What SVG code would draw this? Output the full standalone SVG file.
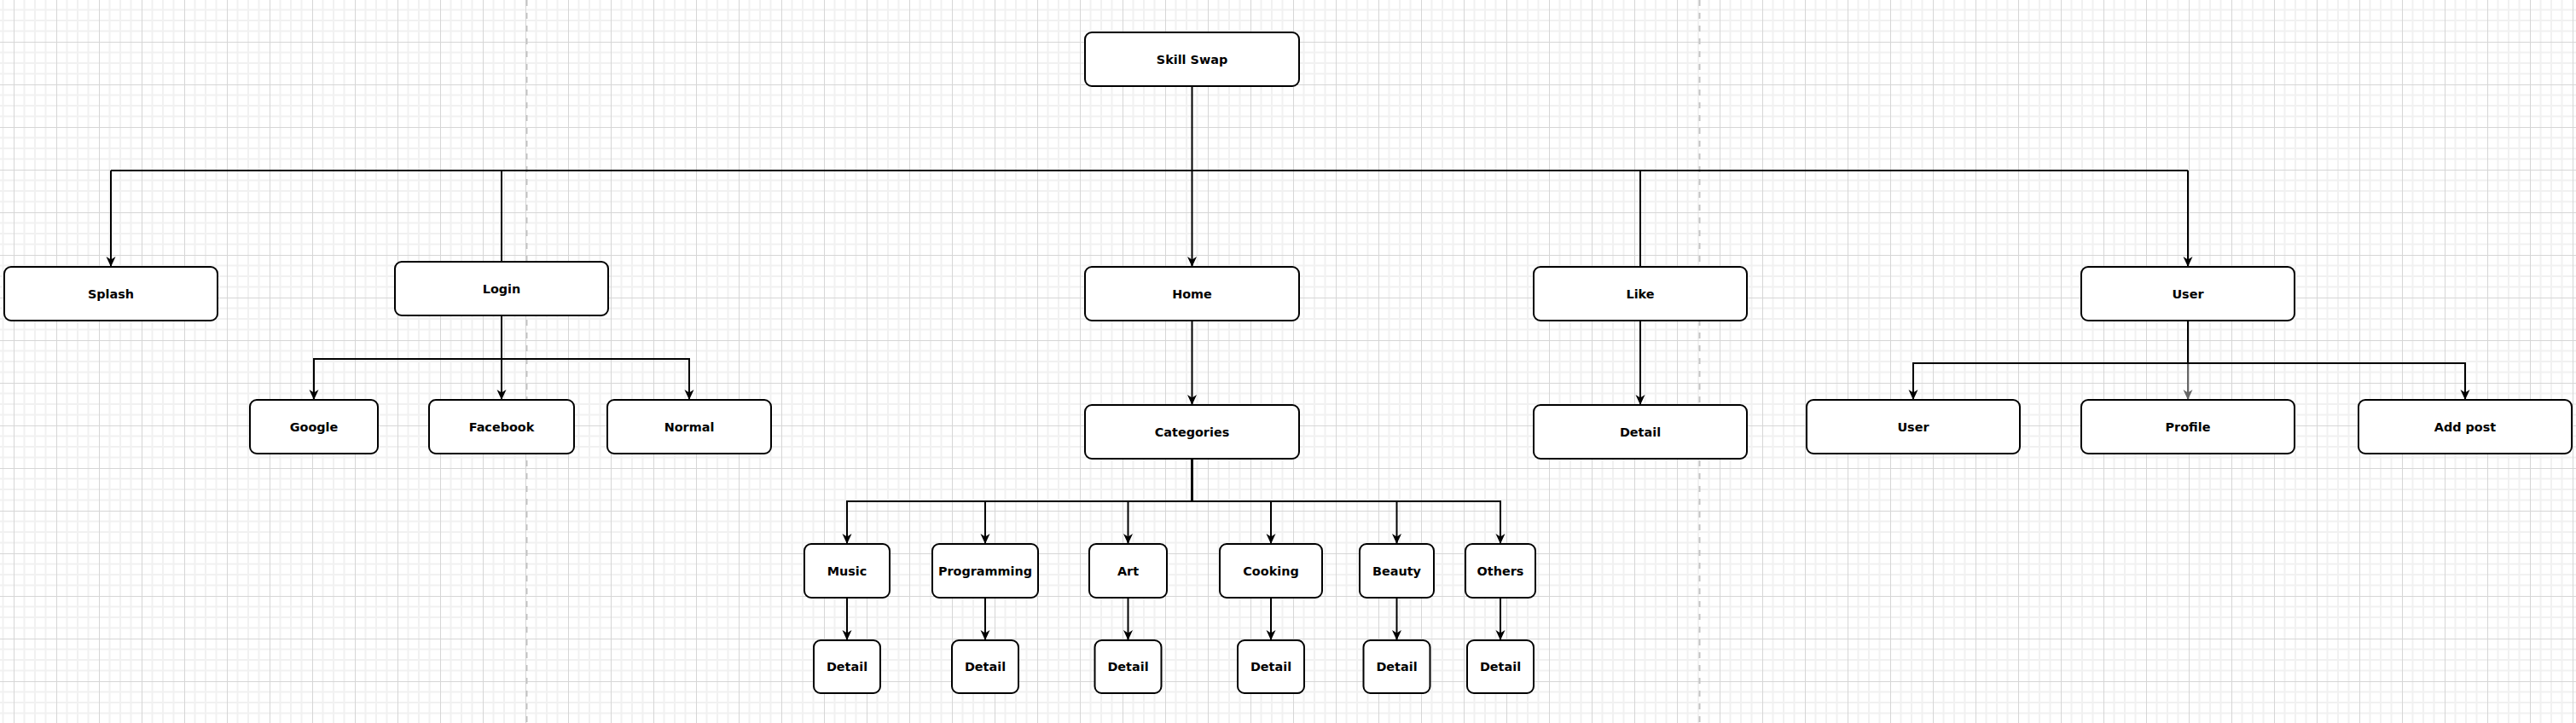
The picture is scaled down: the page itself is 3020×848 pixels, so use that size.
<svg xmlns="http://www.w3.org/2000/svg" width="3020" height="848" viewBox="0 0 3020 848">
<style>
.n rect{fill:#ffffff;stroke:#000000;stroke-width:2}
.n text{font-family:"DejaVu Sans",Verdana,sans-serif;font-weight:bold;font-size:14.4px;fill:#000000;text-anchor:middle}
.e{fill:none;stroke:#000000;stroke-width:2}
.ea{fill:none;stroke:#000000;stroke-width:2;marker-end:url(#arr)}
.eg{fill:none;stroke:#666666;stroke-width:2;marker-end:url(#arrg)}
.pb{stroke:#c4c4c4;stroke-width:2;stroke-dasharray:7 8}
</style>
<defs>
<pattern id="grid" patternUnits="userSpaceOnUse" x="16" y="49" width="50" height="50">
<path d="M12.5,0V50M25,0V50M37.5,0V50M0,12.5H50M0,25H50M0,37.5H50" stroke="#f1f1f1" stroke-width="2" fill="none"/>
<path d="M0.5,0V50M0,0.5H50" stroke="#d6d6d6" stroke-width="1" fill="none"/>
</pattern>
<marker id="arr" markerUnits="userSpaceOnUse" viewBox="0 0 12 12" refX="12" refY="6" markerWidth="12" markerHeight="12" orient="auto">
<path d="M0,0.5L12,6L0,11.5L3.5,6Z" fill="#000000"/>
</marker>
<marker id="arrg" markerUnits="userSpaceOnUse" viewBox="0 0 12 12" refX="12" refY="6" markerWidth="12" markerHeight="12" orient="auto">
<path d="M0,0.5L12,6L0,11.5L3.5,6Z" fill="#666666"/>
</marker>
</defs>
<rect x="0" y="0" width="3020" height="848" fill="#ffffff"/>
<rect x="0" y="0" width="3020" height="848" fill="url(#grid)"/>
<line class="pb" x1="617.5" y1="0" x2="617.5" y2="848"/>
<line class="pb" x1="1992.5" y1="0" x2="1992.5" y2="848"/>

<g id="connectors">
<path class="e" d="M1397.5,101V200"/>
<path class="e" d="M130,200H2565"/>
<path class="ea" d="M130,200V313"/>
<path class="e" d="M588,200V307"/>
<path class="ea" d="M1397.5,200V313"/>
<path class="e" d="M1923,200V313"/>
<path class="ea" d="M2565,200V313"/>
<path class="ea" d="M588,370V421H368V469"/>
<path class="ea" d="M588,370V469"/>
<path class="ea" d="M588,370V421H808V469"/>
<path class="ea" d="M1397.5,376V475"/>
<path class="ea" d="M1397.5,538V588H993V638"/>
<path class="ea" d="M1397.5,538V588H1155V638"/>
<path class="ea" d="M1397.5,538V588H1322.5V638"/>
<path class="ea" d="M1397.5,538V588H1490V638"/>
<path class="ea" d="M1397.5,538V588H1637.5V638"/>
<path class="ea" d="M1397.5,538V588H1759V638"/>
<path class="ea" d="M993,701V751"/>
<path class="ea" d="M1155,701V751"/>
<path class="ea" d="M1322.5,701V751"/>
<path class="ea" d="M1490,701V751"/>
<path class="ea" d="M1637.5,701V751"/>
<path class="ea" d="M1759,701V751"/>
<path class="ea" d="M1923,376V475"/>
<path class="eg" d="M2565,376V469"/>
<path class="ea" d="M2565,376V426H2243V469"/>
<path class="ea" d="M2565,376V426H2890V469"/>
</g>

<g id="node-skillswap" class="n"><rect x="1272" y="38" width="251" height="63" rx="8"/><text x="1397.5" y="74.5">Skill Swap</text></g>
<g id="node-splash" class="n"><rect x="5" y="313" width="250" height="63" rx="8"/><text x="130" y="349.5">Splash</text></g>
<g id="node-login" class="n"><rect x="463" y="307" width="250" height="63" rx="8"/><text x="588" y="343.5">Login</text></g>
<g id="node-home" class="n"><rect x="1272" y="313" width="251" height="63" rx="8"/><text x="1397.5" y="349.5">Home</text></g>
<g id="node-like" class="n"><rect x="1798" y="313" width="250" height="63" rx="8"/><text x="1923" y="349.5">Like</text></g>
<g id="node-user" class="n"><rect x="2440" y="313" width="250" height="63" rx="8"/><text x="2565" y="349.5">User</text></g>

<g id="node-google" class="n"><rect x="293" y="469" width="150" height="63" rx="8"/><text x="368" y="505.5">Google</text></g>
<g id="node-facebook" class="n"><rect x="503" y="469" width="170" height="63" rx="8"/><text x="588" y="505.5">Facebook</text></g>
<g id="node-normal" class="n"><rect x="712" y="469" width="192" height="63" rx="8"/><text x="808" y="505.5">Normal</text></g>

<g id="node-categories" class="n"><rect x="1272" y="475" width="251" height="63" rx="8"/><text x="1397.5" y="511.5">Categories</text></g>
<g id="node-like-detail" class="n"><rect x="1798" y="475" width="250" height="63" rx="8"/><text x="1923" y="511.5">Detail</text></g>

<g id="node-user-child" class="n"><rect x="2118" y="469" width="250" height="63" rx="8"/><text x="2243" y="505.5">User</text></g>
<g id="node-profile" class="n"><rect x="2440" y="469" width="250" height="63" rx="8"/><text x="2565" y="505.5">Profile</text></g>
<g id="node-addpost" class="n"><rect x="2765" y="469" width="250" height="63" rx="8"/><text x="2890" y="505.5">Add post</text></g>

<g id="node-music" class="n"><rect x="943" y="638" width="100" height="63" rx="8"/><text x="993" y="674.5">Music</text></g>
<g id="node-programming" class="n"><rect x="1093" y="638" width="124" height="63" rx="8"/><text x="1155" y="674.5">Programming</text></g>
<g id="node-art" class="n"><rect x="1277" y="638" width="91" height="63" rx="8"/><text x="1322.5" y="674.5">Art</text></g>
<g id="node-cooking" class="n"><rect x="1430" y="638" width="120" height="63" rx="8"/><text x="1490" y="674.5">Cooking</text></g>
<g id="node-beauty" class="n"><rect x="1594" y="638" width="87" height="63" rx="8"/><text x="1637.5" y="674.5">Beauty</text></g>
<g id="node-others" class="n"><rect x="1718" y="638" width="82" height="63" rx="8"/><text x="1759" y="674.5">Others</text></g>

<g id="node-music-detail" class="n"><rect x="954" y="751" width="78" height="62" rx="8"/><text x="993" y="787">Detail</text></g>
<g id="node-programming-detail" class="n"><rect x="1116" y="751" width="78" height="62" rx="8"/><text x="1155" y="787">Detail</text></g>
<g id="node-art-detail" class="n"><rect x="1283.5" y="751" width="78" height="62" rx="8"/><text x="1322.5" y="787">Detail</text></g>
<g id="node-cooking-detail" class="n"><rect x="1451" y="751" width="78" height="62" rx="8"/><text x="1490" y="787">Detail</text></g>
<g id="node-beauty-detail" class="n"><rect x="1598.5" y="751" width="78" height="62" rx="8"/><text x="1637.5" y="787">Detail</text></g>
<g id="node-others-detail" class="n"><rect x="1720" y="751" width="78" height="62" rx="8"/><text x="1759" y="787">Detail</text></g>
</svg>
